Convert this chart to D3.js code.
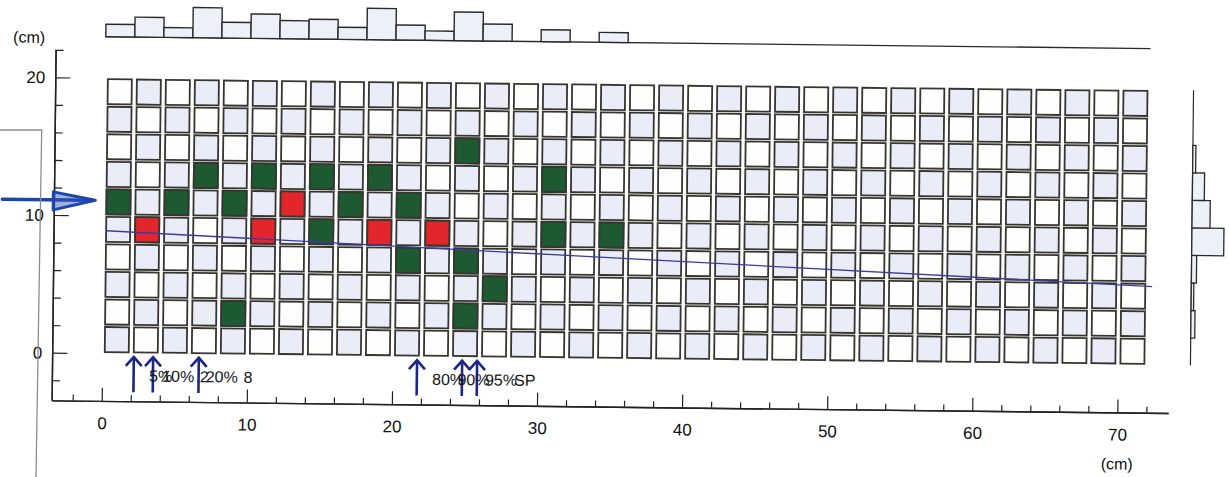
<!DOCTYPE html>
<html>
<head>
<meta charset="utf-8">
<script src="https://cdn.jsdelivr.net/npm/d3@7"></script>
<style>
  html, body { margin: 0; padding: 0; background: #ffffff; }
  svg { display: block; }
</style>
</head>
<body>
<svg id="chart" width="1229" height="477"></svg>
<script>
// ---- data -------------------------------------------------------------
// calorimeter cell grid: 36 columns x 10 rows, each cell 2 cm x 2 cm
const nCols = 36;
const nRows = 10;

// hit cells (centre x in cm, centre y in cm)
const greenHitsX = [1, 5, 7, 9, 9, 11, 15, 15, 17, 19, 21, 21, 25, 25, 25, 27, 31, 31, 35];
const greenHitsY = [11, 11, 13, 11, 3, 13, 13, 9, 11, 13, 11, 7, 15, 7, 3, 5, 13, 9, 9];
const redHitsX = [3, 11, 13, 19, 23];
const redHitsY = [9, 9, 11, 9, 9];

// longitudinal profile (one bin per 2 cm column) and lateral profile (one bin per 2 cm row)
const topProfile = [12.5, 19.9, 9.8, 30.1, 15.8, 24.4, 18.1, 19.8, 12.1, 31.4, 15.0, 9.4, 28.7, 17.0, 0, 11.9, 0, 9.9];
const sideProfileRows = [3, 5, 7, 9, 11, 13, 15];   // row centres (cm)
const sideProfile =     [4, 2.5, 5, 32, 18, 12, 3];

// fitted shower axis (cm)
const fitLineX = [0.2, 72.3];
const fitLineY = [8.9, 5.7];

// containment markers along x (cm)
const markerX = [2.18, 3.51, 6.66, 21.7, 24.81, 25.84];
const markerLabels = ["5%", "10%", "2", "20%", "8", "80%", "90%", "95%", "SP"];
const markerLabelX = [3.25, 4.15, 6.75, 7.15, 9.75, 22.75, 24.5, 26.4, 28.4];

// beam entry arrow (cm)
const beamArrowY = 11.1;
const beamArrowX = [-7.0, -0.6];

// axes
const xTicksMajor = [0, 10, 20, 30, 40, 50, 60, 70];
const yTicksMajor = [0, 10, 20];
const xExtent = [-3.45, 73.5];
const yExtent = [-3.46, 22.03];

// ---- layout -----------------------------------------------------------
const svg = d3.select("#chart");
const FONT = "'Liberation Sans', Arial, Helvetica, sans-serif";

const x = d3.scaleLinear().domain([0, 70]).range([101.7, 1117.4]);
const y = d3.scaleLinear().domain([0, 20]).range([352.7, 77.3]);
const xAx = x.copy().domain(xExtent).range(xExtent.map(x));
const yAx = y.copy().domain(yExtent).range(yExtent.map(y));

const CELL_W = 24, CELL_H = 25;
const cellStroke = "#36352f";
const lightFill = "#eaedf7";
const whiteFill = "#fefefe";
const green = "#1d5a31";
const red = "#e3262b";

// the whole figure sits slightly tilted on the page
const root = svg.append("g")
  .attr("transform", `rotate(0.65, ${xAx(xExtent[0])}, ${yAx(yExtent[0])})`);

// ---- cell grid --------------------------------------------------------
const cells = [];
for (let c = 0; c < nCols; c++) {
  for (let r = 0; r < nRows; r++) {
    cells.push({ cx: 2 * c + 1, cy: 2 * r + 1, light: (c + r) % 2 === 0 });
  }
}
root.append("g").selectAll("rect").data(cells).join("rect")
  .attr("x", d => x(d.cx) - CELL_W / 2)
  .attr("y", d => y(d.cy) - CELL_H / 2)
  .attr("width", CELL_W).attr("height", CELL_H)
  .attr("fill", d => d.light ? lightFill : whiteFill)
  .attr("stroke", cellStroke).attr("stroke-width", 1.8);

const hits = greenHitsX.map((v, i) => ({ cx: v, cy: greenHitsY[i], col: green }))
  .concat(redHitsX.map((v, i) => ({ cx: v, cy: redHitsY[i], col: red })));
root.append("g").selectAll("rect").data(hits).join("rect")
  .attr("x", d => x(d.cx) - CELL_W / 2)
  .attr("y", d => y(d.cy) - CELL_H / 2)
  .attr("width", CELL_W).attr("height", CELL_H)
  .attr("fill", d => d.col)
  .attr("stroke", cellStroke).attr("stroke-width", 1.8);

// ---- fitted axis line -------------------------------------------------
root.append("line")
  .attr("x1", x(fitLineX[0])).attr("y1", y(fitLineY[0]))
  .attr("x2", x(fitLineX[1])).attr("y2", y(fitLineY[1]))
  .attr("stroke", "#3d3aa6").attr("stroke-width", 1.3);

// ---- top profile histogram -------------------------------------------
const topBase = 36.1;
const hTop = d3.scaleLinear().domain([0, 32]).range([0, 32]);
root.append("line")
  .attr("x1", x(0)).attr("x2", x(72))
  .attr("y1", topBase).attr("y2", topBase)
  .attr("stroke", "#2a2a2a").attr("stroke-width", 1.3);
root.append("g").selectAll("rect")
  .data(topProfile.map((v, i) => ({ v, i })).filter(d => d.v > 0))
  .join("rect")
  .attr("x", d => x(2 * d.i)).attr("width", d => x(2 * d.i + 2) - x(2 * d.i))
  .attr("y", d => topBase - hTop(d.v)).attr("height", d => hTop(d.v))
  .attr("fill", "#eef0f8").attr("stroke", "#2a2a2a").attr("stroke-width", 1.4);

// ---- side profile histogram ------------------------------------------
const sideBase = x(75);
const wSide = d3.scaleLinear().domain([0, 32]).range([0, 32]);
root.append("line")
  .attr("x1", sideBase).attr("x2", sideBase)
  .attr("y1", y(20)).attr("y2", y(0))
  .attr("stroke", "#2a2a2a").attr("stroke-width", 1.2);
root.append("g").selectAll("rect")
  .data(sideProfile.map((v, i) => ({ v, r: sideProfileRows[i] })))
  .join("rect")
  .attr("x", sideBase).attr("width", d => wSide(d.v))
  .attr("y", d => y(d.r + 1)).attr("height", d => y(d.r - 1) - y(d.r + 1))
  .attr("fill", "#eef0f8").attr("stroke", "#2a2a2a").attr("stroke-width", 1.3);

// ---- axes -------------------------------------------------------------
function styleAxis(g) {
  g.selectAll("path.domain").attr("stroke", "#222").attr("stroke-width", 1.4);
  g.selectAll(".tick line").attr("stroke", "#222").attr("stroke-width", 1.2);
  g.selectAll("text").attr("font-family", FONT).attr("font-size", 17).attr("fill", "#111");
}
const yMinor = d3.range(-2, 23, 2).filter(v => !yTicksMajor.includes(v));
const xMinor = d3.range(-2, 73, 2).filter(v => !xTicksMajor.includes(v));

const yAxisG = root.append("g").attr("transform", `translate(${xAx(xExtent[0])},0)`);
yAxisG.append("g").call(d3.axisLeft(yAx).tickValues(yMinor).tickSize(-8).tickSizeOuter(0).tickFormat(""))
  .call(styleAxis);
yAxisG.append("g").call(d3.axisLeft(yAx).tickValues(yTicksMajor).tickSize(-15).tickSizeOuter(0).tickPadding(10))
  .call(styleAxis);

const xAxisG = root.append("g").attr("transform", `translate(0,${yAx(yExtent[0])})`);
xAxisG.append("g").call(d3.axisBottom(xAx).tickValues(xMinor).tickSize(-6).tickSizeOuter(0).tickFormat(""))
  .call(styleAxis);
xAxisG.append("g").call(d3.axisBottom(xAx).tickValues(xTicksMajor).tickSize(-13).tickSizeOuter(0).tickPadding(16))
  .call(styleAxis);

root.append("text").text("(cm)")
  .attr("x", 25).attr("y", 43).attr("text-anchor", "middle")
  .attr("font-family", FONT).attr("font-size", 16).attr("fill", "#111");
root.append("text").text("(cm)")
  .attr("x", x(70)).attr("y", yAx(yExtent[0]) + 57).attr("text-anchor", "middle")
  .attr("font-family", FONT).attr("font-size", 16).attr("fill", "#111");

// ---- containment markers ---------------------------------------------
const arrowCol = "#1b2788";
const tipY = y(-0.25), tailY = y(-2.8);
const mk = root.append("g").attr("stroke", arrowCol).attr("stroke-width", 2.6).attr("fill", "none");
markerX.forEach(v => {
  const px = x(v);
  mk.append("line").attr("x1", px).attr("x2", px).attr("y1", tailY).attr("y2", tipY);
  mk.append("path").attr("d", `M${px - 8},${tipY + 9} L${px},${tipY} L${px + 8},${tipY + 9}`);
});
root.append("g").selectAll("text").data(markerLabels).join("text")
  .text(d => d)
  .attr("x", (d, i) => x(markerLabelX[i]))
  .attr("y", y(-2.02))
  .attr("font-family", FONT).attr("font-size", 16).attr("fill", "#151515");

// ---- beam entry arrow -------------------------------------------------
const beam = root.append("g").attr("stroke", "#1d46ad").attr("fill", "none")
  .attr("stroke-linecap", "round").attr("stroke-linejoin", "round");
const bx0 = x(beamArrowX[0]), bx1 = x(beamArrowX[1]), by = y(beamArrowY);
beam.append("line").attr("x1", bx0).attr("x2", bx1 - 4).attr("y1", by).attr("y2", by)
  .attr("stroke-width", 3.5);
beam.append("path")
  .attr("d", `M${bx1 - 42},${by - 8} L${bx1},${by} L${bx1 - 42},${by + 10} Z`)
  .attr("stroke-width", 3).attr("fill", "#2a55b8").attr("fill-opacity", 0.45);

// ---- neighbouring panel frame ----------------------------------------
svg.append("path")
  .attr("d", "M0,130 L41.7,130 L36,477")
  .attr("fill", "none").attr("stroke", "#8d8d8d").attr("stroke-width", 1.3);
</script>
</body>
</html>
